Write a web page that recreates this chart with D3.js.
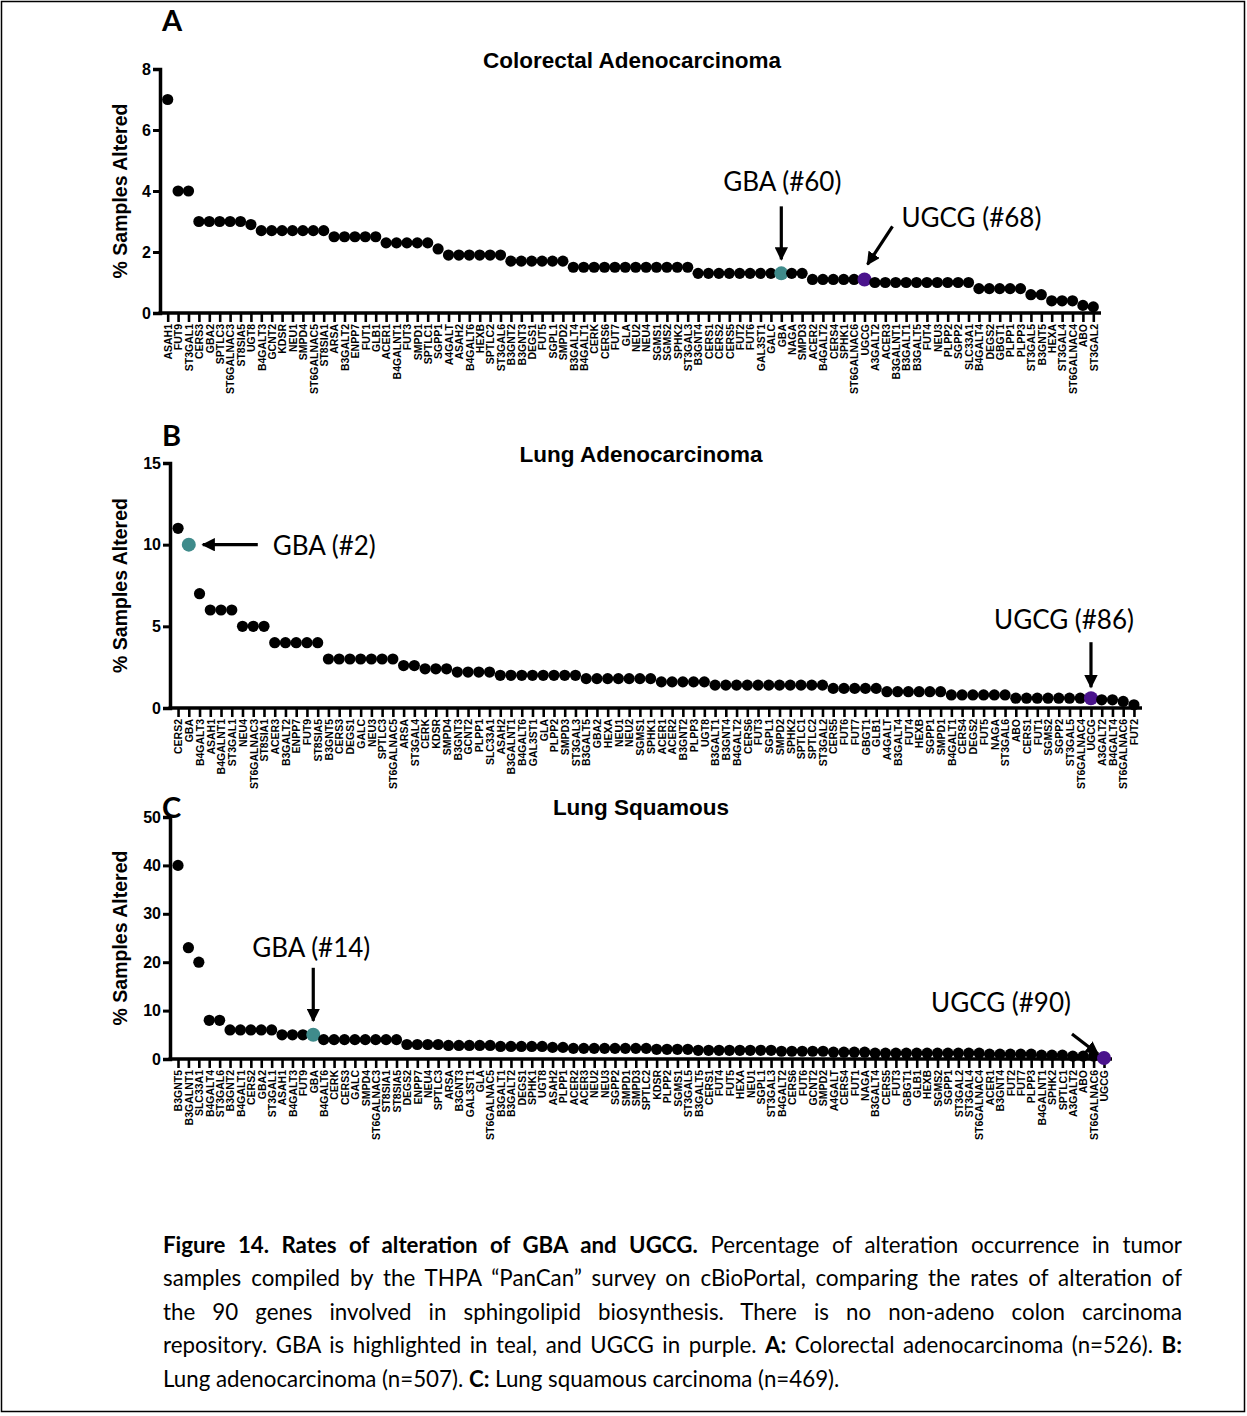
<!DOCTYPE html>
<html>
<head>
<meta charset="utf-8">
<script src="https://cdn.jsdelivr.net/npm/d3@7"></script>
<style>
  body { margin: 0; background: #fff; }
  svg { display: block; }
  .tick text { font-family: Arial, "Liberation Sans", sans-serif; font-weight: bold; }
</style>
</head>
<body>
<div id="chart"></div>
<script>
// ---- data ----
const genesA = ["ASAH1","FUT9","ST3GAL1","CERS3","GBA2","SPTLC3","ST6GALNAC3","ST8SIA5","UGT8","B4GALT3",
  "GCNT2","KDSR","NEU1","SMPD4","ST6GALNAC5","ST8SIA1","ARSA","B3GALT2","ENPP7","FUT1",
  "GLB1","ACER1","B4GALNT1","FUT3","SMPD1","SPTLC1","SGPP1","A4GALT","ASAH2","B4GALT6",
  "HEXB","SPTLC2","ST3GAL6","B3GNT2","B3GNT3","DEGS1","FUT5","SGPL1","SMPD2","B3GALT4",
  "B4GALT1","CERK","CERS6","FUT7","GLA","NEU2","NEU4","SGMS1","SGMS2","SPHK2",
  "ST3GAL3","B3GNT4","CERS1","CERS2","CERS5","FUT2","FUT6","GAL3ST1","GALC","GBA",
  "NAGA","SMPD3","ACER2","B4GALT2","CERS4","SPHK1","ST6GALNAC6","UGCG","A3GALT2","ACER3",
  "B3GALNT1","B3GALT1","B3GALT5","FUT4","NEU3","PLPP2","SGPP2","SLC33A1","B4GALT4","DEGS2",
  "GBGT1","PLPP1","PLPP3","ST3GAL5","B3GNT5","HEXA","ST3GAL4","ST6GALNAC4","ABO","ST3GAL2"];
const valuesA = [7,4,4,3,3,3,3,3,2.9,2.7,
  2.7,2.7,2.7,2.7,2.7,2.7,2.5,2.5,2.5,2.5,
  2.5,2.3,2.3,2.3,2.3,2.3,2.1,1.9,1.9,1.9,
  1.9,1.9,1.9,1.7,1.7,1.7,1.7,1.7,1.7,1.5,
  1.5,1.5,1.5,1.5,1.5,1.5,1.5,1.5,1.5,1.5,
  1.5,1.3,1.3,1.3,1.3,1.3,1.3,1.3,1.3,1.3,
  1.3,1.3,1.1,1.1,1.1,1.1,1.1,1.1,1.0,1.0,
  1.0,1.0,1.0,1.0,1.0,1.0,1.0,1.0,0.8,0.8,
  0.8,0.8,0.8,0.6,0.6,0.4,0.4,0.4,0.25,0.2];

const genesB = ["CERS2","GBA","B4GALT3","ASAH1","B4GALNT1","ST3GAL1","NEU4","ST6GALNAC3","ST8SIA1","ACER3",
  "B3GALT2","ENPP7","FUT9","ST8SIA5","B3GNT5","CERS3","DEGS1","GALC","NEU3","SPTLC3",
  "ST6GALNAC5","ARSA","ST3GAL4","CERK","KDSR","SMPD4","B3GNT3","GCNT2","PLPP1","SLC33A1",
  "ASAH2","B3GALNT1","B4GALT6","GAL3ST1","GLA","PLPP2","SMPD3","ST3GAL3","B3GALT5","GBA2",
  "HEXA","NEU1","NEU2","SGMS1","SPHK1","ACER1","ACER2","B3GNT2","PLPP3","UGT8",
  "B3GALT1","B3GNT4","B4GALT2","CERS6","FUT3","SGPL1","SMPD2","SPHK2","SPTLC1","SPTLC2",
  "ST3GAL2","CERS5","FUT6","FUT7","GBGT1","GLB1","A4GALT","B3GALT4","FUT4","HEXB",
  "SGPP1","SMPD1","B4GALT1","CERS4","DEGS2","FUT5","NAGA","ST3GAL6","ABO","CERS1",
  "FUT1","SGMS2","SGPP2","ST3GAL5","ST6GALNAC4","UGCG","A3GALT2","B4GALT4","ST6GALNAC6","FUT2"];
const valuesB = [11,10,7,6,6,6,5,5,5,4,
  4,4,4,4,3,3,3,3,3,3,
  3,2.6,2.6,2.4,2.4,2.4,2.2,2.2,2.2,2.2,
  2,2,2,2,2,2,2,2,1.8,1.8,
  1.8,1.8,1.8,1.8,1.8,1.6,1.6,1.6,1.6,1.6,
  1.4,1.4,1.4,1.4,1.4,1.4,1.4,1.4,1.4,1.4,
  1.4,1.2,1.2,1.2,1.2,1.2,1.0,1.0,1.0,1.0,
  1.0,1.0,0.8,0.8,0.8,0.8,0.8,0.8,0.6,0.6,
  0.6,0.6,0.6,0.6,0.6,0.6,0.5,0.5,0.4,0.2];

const genesC = ["B3GNT5","B3GALNT1","SLC33A1","B4GALT4","ST3GAL6","B3GNT2","B4GALT1","CERS2","GBA2","ST3GAL1",
  "ASAH1","B4GALT3","FUT9","GBA","B4GALT6","CERK","CERS3","GALC","SMPD4","ST6GALNAC3",
  "ST8SIA1","ST8SIA5","DEGS2","ENPP7","NEU4","SPTLC3","ARSA","B3GNT3","GAL3ST1","GLA",
  "ST6GALNAC5","B3GALT1","B3GALT2","DEGS1","SPHK1","UGT8","ASAH2","PLPP1","ACER2","ACER3",
  "NEU2","NEU3","SGPP2","SMPD1","SMPD3","SPTLC2","KDSR","PLPP2","SGMS1","ST3GAL5",
  "B3GALT5","CERS1","FUT4","FUT5","HEXA","NEU1","SGPL1","ST3GAL3","B4GALT2","CERS6",
  "FUT6","GCNT2","SMPD2","A4GALT","CERS4","FUT1","NAGA","B3GALT4","CERS5","FUT3",
  "GBGT1","GLB1","HEXB","SGMS2","SGPP1","ST3GAL2","ST3GAL4","ST6GALNAC4","ACER1","B3GNT4",
  "FUT2","FUT7","PLPP3","B4GALNT1","SPHK2","SPTLC1","A3GALT2","ABO","ST6GALNAC6","UGCG"];
const valuesC = [40,23,20,8,8,6,6,6,6,6,
  5,5,5,5,4,4,4,4,4,4,
  4,4,3,3,3,3,2.8,2.8,2.8,2.8,
  2.8,2.6,2.6,2.6,2.6,2.6,2.4,2.4,2.2,2.2,
  2.2,2.2,2.2,2.2,2.2,2.2,2.0,2.0,2.0,2.0,
  1.8,1.8,1.8,1.8,1.8,1.8,1.8,1.8,1.6,1.6,
  1.6,1.6,1.6,1.4,1.4,1.4,1.4,1.2,1.2,1.2,
  1.2,1.2,1.2,1.2,1.2,1.2,1.2,1.2,1.0,1.0,
  1.0,1.0,1.0,0.8,0.8,0.8,0.6,0.6,0.6,0.2];

const ticksA = [0, 2, 4, 6, 8];
const ticksB = [0, 5, 10, 15];
const ticksC = [0, 10, 20, 30, 40, 50];

const TEAL = "#3f8b8b", PURPLE = "#4a138c";

const W = 1247, H = 1416;
const svg = d3.select("#chart").append("svg")
  .attr("width", W).attr("height", H);

svg.append("rect").attr("width", W).attr("height", H).attr("fill", "#fff");
svg.append("rect").attr("x", 1.5).attr("y", 1.5).attr("width", W - 4).attr("height", 1410)
  .attr("fill", "none").attr("stroke", "#000").attr("stroke-width", 1.5);

const defs = svg.append("defs");
defs.append("marker").attr("id", "head")
  .attr("viewBox", "0 0 10 10").attr("refX", 9).attr("refY", 5)
  .attr("markerWidth", 4.2).attr("markerHeight", 4.2).attr("orient", "auto")
  .append("path").attr("d", "M0,0 L10,5 L0,10 z").attr("fill", "#000");

const annFont = "Lato, 'Open Sans', sans-serif";
const arial = "Arial, 'Liberation Sans', sans-serif";

function panel(o) {
  const x = d3.scalePoint().domain(o.genes).range([o.left, o.right]).padding(o.pad);
  const y = d3.scaleLinear().domain([0, o.ymax]).range([o.bottom, o.top]);
  const g = svg.append("g");

  // panel letter
  g.append("text").attr("x", 162).attr("y", o.letterY)
    .attr("font-family", annFont).attr("font-weight", "bold").attr("font-size", 29)
    .text(o.letter);

  // title
  g.append("text").attr("x", o.titleX).attr("y", o.titleY)
    .attr("text-anchor", "middle")
    .attr("font-family", arial).attr("font-weight", "bold")
    .attr("font-size", 22.5).text(o.title);

  // y axis
  const ya = g.append("g").attr("transform", "translate(" + o.left + ",0)")
    .call(d3.axisLeft(y).tickValues(o.ticks).tickSize(7).tickPadding(2));
  ya.select(".domain").attr("stroke-width", 3.5);
  ya.selectAll(".tick line").attr("stroke-width", 3);
  ya.selectAll(".tick text").attr("font-size", 16);

  g.append("text")
    .attr("transform", "translate(127," + ((o.top + o.bottom) / 2) + ") rotate(-90)")
    .attr("text-anchor", "middle")
    .attr("font-family", arial).attr("font-weight", "bold")
    .attr("font-size", 19.5).text("% Samples Altered");

  // x axis
  const xa = g.append("g").attr("transform", "translate(0," + o.bottom + ")")
    .call(d3.axisBottom(x).tickSize(9).tickSizeOuter(0).tickPadding(3));
  xa.select(".domain").attr("d", "M" + (o.left - 1.5) + ",0H" + o.right).attr("stroke-width", 3.5);
  xa.selectAll(".tick line").attr("stroke-width", 2.6);
  xa.selectAll(".tick text")
    .attr("font-size", 10.5)
    .style("text-anchor", "end")
    .attr("transform", "rotate(-90)")
    .attr("x", -11).attr("y", 0).attr("dy", "0.36em");

  // dots
  const data = o.genes.map((d, i) => ({ gene: d, v: o.values[i] }));
  g.selectAll("circle").data(data).enter().append("circle")
    .attr("cx", d => x(d.gene))
    .attr("cy", d => y(d.v))
    .attr("r", d => (d.gene === "GBA" || d.gene === "UGCG") ? 7 : 5.6)
    .attr("fill", d => d.gene === "GBA" ? TEAL : d.gene === "UGCG" ? PURPLE : "#000");

  // annotations
  o.notes.forEach(n => {
    const idx = o.genes.indexOf(n.gene);
    const px = x(n.gene), py = y(o.values[idx]);
    g.append("line")
      .attr("x1", px + n.ax1).attr("y1", py + n.ay1)
      .attr("x2", px + n.ax2).attr("y2", py + n.ay2)
      .attr("stroke", "#000").attr("stroke-width", 3.2)
      .attr("marker-end", "url(#head)");
    g.append("text")
      .attr("x", px + n.tx).attr("y", py + n.ty)
      .attr("text-anchor", n.anchor)
      .attr("font-family", annFont).attr("font-size", 26)
      .text(n.gene + " (#" + (idx + 1) + ")");
  });
}

panel({
  letter: "A", letterY: 31, title: "Colorectal Adenocarcinoma", titleX: 632, titleY: 68,
  genes: genesA, values: valuesA, ymax: 8, ticks: ticksA,
  left: 160, right: 1101, pad: 0.74, top: 69, bottom: 313,
  notes: [
    { gene: "GBA", ax1: 0, ay1: -67, ax2: 0, ay2: -14, tx: 1, ty: -82, anchor: "middle" },
    { gene: "UGCG", ax1: 28, ay1: -53, ax2: 3, ay2: -15, tx: 37, ty: -52, anchor: "start" }
  ]
});

panel({
  letter: "B", letterY: 446, title: "Lung Adenocarcinoma", titleX: 641, titleY: 462,
  genes: genesB, values: valuesB, ymax: 15, ticks: ticksB,
  left: 170, right: 1142, pad: 0.75, top: 463, bottom: 708,
  notes: [
    { gene: "GBA", ax1: 69, ay1: 0, ax2: 14, ay2: 0, tx: 84, ty: 10, anchor: "start" },
    { gene: "UGCG", ax1: 0, ay1: -56, ax2: 0, ay2: -11, tx: -27, ty: -69, anchor: "middle" }
  ]
});

panel({
  letter: "C", letterY: 818, title: "Lung Squamous", titleX: 641, titleY: 815,
  genes: genesC, values: valuesC, ymax: 50, ticks: ticksC,
  left: 170, right: 1112, pad: 0.77, top: 817, bottom: 1059,
  notes: [
    { gene: "GBA", ax1: 0, ay1: -67, ax2: 0, ay2: -14, tx: -2, ty: -78, anchor: "middle" },
    { gene: "UGCG", ax1: -32, ay1: -24, ax2: -6, ay2: -4, tx: -103, ty: -46, anchor: "middle" }
  ]
});

// caption, each line justified by word spacing
const capLines = [
  { y: 1253, full: true, parts: [["Figure 14. Rates of alteration of GBA and UGCG.", true], [" Percentage of alteration occurrence in tumor", false]] },
  { y: 1286, full: true, parts: [["samples compiled by the THPA \u201cPanCan\u201d survey on cBioPortal, comparing the rates of alteration of", false]] },
  { y: 1320, full: true, parts: [["the 90 genes involved in sphingolipid biosynthesis. There is no non-adeno colon carcinoma", false]] },
  { y: 1353, full: true, parts: [["repository. GBA is highlighted in teal, and UGCG in purple. ", false], ["A:", true], [" Colorectal adenocarcinoma (n=526). ", false], ["B:", true]] },
  { y: 1387, full: false, parts: [["Lung adenocarcinoma (n=507). ", false], ["C:", true], [" Lung squamous carcinoma (n=469).", false]] }
];
capLines.forEach(l => {
  const t = svg.append("text").attr("x", 163).attr("y", l.y)
    .attr("font-family", annFont).attr("font-size", 22.3).attr("xml:space", "preserve");
  l.parts.forEach(p => {
    t.append("tspan").attr("font-weight", p[1] ? "bold" : "normal").text(p[0]);
  });
  if (l.full) {
    const len = t.node().getComputedTextLength();
    const spaces = l.parts.map(p => p[0]).join("").split(" ").length - 1;
    t.attr("word-spacing", (1182 - 163 - len) / spaces);
  }
});
</script>
</body>
</html>
